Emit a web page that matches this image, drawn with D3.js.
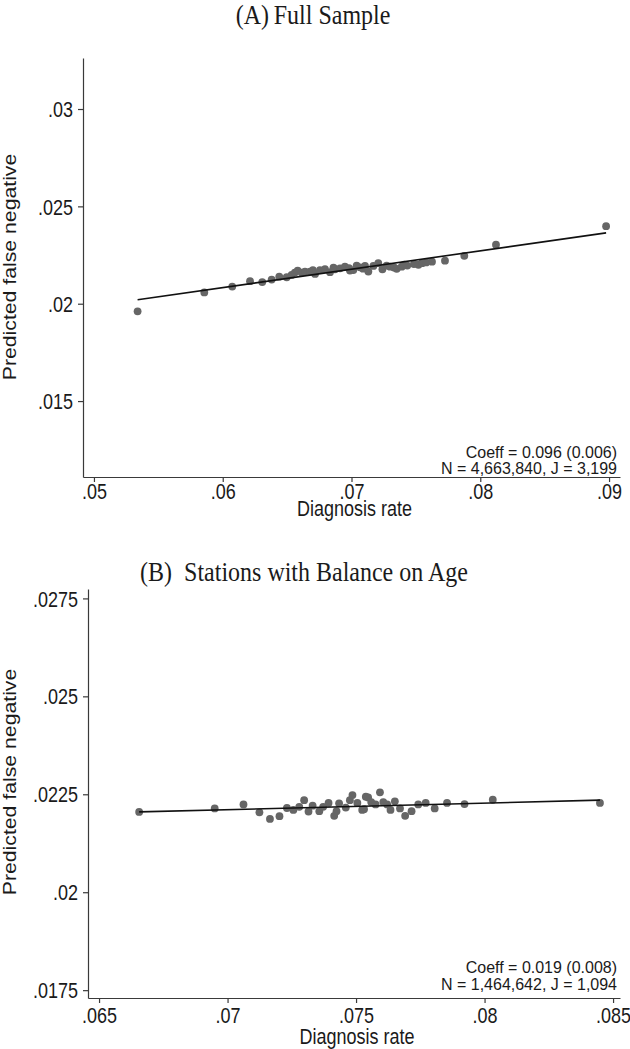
<!DOCTYPE html>
<html>
<head>
<meta charset="utf-8">
<script src="https://cdn.jsdelivr.net/npm/d3@7"></script>
<style>
  html, body { margin: 0; padding: 0; background: #fff; }
  svg { display: block; }
  .tick text { font-family: "Liberation Sans", Arial, sans-serif; font-size: 18px; fill: #1a1a1a; }
  .tick line, .domain { stroke: #3a3a3a; stroke-width: 1.2px; }
</style>
</head>
<body>
<svg id="chart" width="630" height="1049"></svg>
<script>
// ---------- Panel A: Full Sample ----------
const titleA = "(A)\u2009Full Sample";
const xTicksA = [0.05, 0.06, 0.07, 0.08, 0.09];
const xTickLabelsA = [".05", ".06", ".07", ".08", ".09"];
const yTicksA = [0.015, 0.02, 0.025, 0.03];
const yTickLabelsA = [".015", ".02", ".025", ".03"];
const xDiagA = [0.05339, 0.05857, 0.06074, 0.06212, 0.06307, 0.0638, 0.06439, 0.06497, 0.06535, 0.0656,
  0.06582, 0.06613, 0.06639, 0.06678, 0.067, 0.06717, 0.06755, 0.06794, 0.06833, 0.0686,
  0.06872, 0.06911, 0.06949, 0.0698, 0.06988, 0.07014, 0.0704, 0.07066, 0.0709, 0.07105,
  0.07131, 0.0717, 0.07208, 0.0724, 0.07273, 0.073, 0.0733, 0.07351, 0.0739, 0.0741,
  0.07433, 0.07485, 0.0752, 0.07548, 0.0758, 0.07625, 0.07726, 0.07876, 0.08122, 0.08977];
const yPredA = [0.01961, 0.02058, 0.02088, 0.02116, 0.02111, 0.02124, 0.02139, 0.02136, 0.02148, 0.0216,
  0.0217, 0.0216, 0.02165, 0.02165, 0.02172, 0.02153, 0.02173, 0.02177, 0.02162, 0.02185,
  0.02177, 0.02182, 0.0219, 0.02183, 0.0217, 0.02173, 0.02196, 0.02187, 0.0218, 0.02194,
  0.02165, 0.02194, 0.02208, 0.02177, 0.02196, 0.0219, 0.02186, 0.02179, 0.0219, 0.022,
  0.02196, 0.02204, 0.022, 0.02208, 0.02212, 0.02216, 0.02221, 0.02246, 0.02303, 0.02398];
const fitXA = [0.05339, 0.08977];
const fitYA = [0.0202, 0.02364];
const noteA = ["Coeff = 0.096 (0.006)", "N = 4,663,840, J = 3,199"];

// ---------- Panel B: Stations with Balance on Age ----------
const titleB = "(B)\u2002Stations with Balance on Age";
const xTicksB = [0.065, 0.07, 0.075, 0.08, 0.085];
const xTickLabelsB = [".065", ".07", ".075", ".08", ".085"];
const yTicksB = [0.0175, 0.02, 0.0225, 0.025, 0.0275];
const yTickLabelsB = [".0175", ".02", ".0225", ".025", ".0275"];
const xDiagB = [0.06656, 0.0695, 0.07062, 0.07124, 0.07165, 0.07202, 0.07231, 0.07256, 0.07279, 0.07298,
  0.07315, 0.07331, 0.07357, 0.07372, 0.07393, 0.07415, 0.07424, 0.07434, 0.0746, 0.07476,
  0.07486, 0.07505, 0.07524, 0.07531, 0.07538, 0.07547, 0.07559, 0.07576, 0.07593, 0.07606,
  0.07621, 0.07634, 0.07651, 0.07671, 0.07691, 0.07716, 0.07742, 0.07771, 0.07806, 0.07854,
  0.07922, 0.08032, 0.08449];
const yPredB = [0.02205, 0.02214, 0.02224, 0.02204, 0.02187, 0.02194, 0.02215, 0.0221, 0.02218, 0.02235,
  0.02206, 0.02221, 0.02207, 0.02218, 0.02228, 0.02195, 0.02207, 0.02227, 0.02216, 0.02235,
  0.02248, 0.02228, 0.0221, 0.02212, 0.02244, 0.02242, 0.0223, 0.02224, 0.02255, 0.0223,
  0.02224, 0.0221, 0.02232, 0.02214, 0.02195, 0.02207, 0.02224, 0.02228, 0.02214, 0.02228,
  0.02225, 0.02236, 0.02228];
const fitXB = [0.06656, 0.08449];
const fitYB = [0.02205, 0.02235];
const noteB = ["Coeff = 0.019 (0.008)", "N = 1,464,642, J = 1,094"];

const xLabel = "Diagnosis rate";
const yLabel = "Predicted false negative";

const svg = d3.select("#chart");
const sans = '"Liberation Sans", Arial, sans-serif';
const serif = '"Liberation Serif", "Times New Roman", serif';
const SY = 1.18; // glyphs in the reference are vertically elongated

function addText(g, x, y, str, family, size, anchor, rotate, sy) {
  const s = sy === undefined ? SY : sy;
  return g.append("text")
    .attr("transform", `translate(${x},${y}) scale(1,${s})` + (rotate ? " rotate(-90)" : ""))
    .attr("text-anchor", anchor)
    .style("font-family", family).style("font-size", size + "px").style("fill", "#1a1a1a")
    .text(str);
}

function panel(cfg) {
  const x = d3.scaleLinear().domain(cfg.xDomain).range([cfg.left, cfg.right]);
  const y = d3.scaleLinear().domain(cfg.yDomain).range([cfg.bottom, cfg.top]);
  const g = svg.append("g");

  addText(g, cfg.titleX, cfg.titleY, cfg.title, serif, 24, "middle");

  const xAxis = d3.axisBottom(x).tickValues(cfg.xTicks)
    .tickFormat((d, i) => cfg.xTickLabels[i]).tickSize(5).tickSizeOuter(0).tickPadding(cfg.xPad);
  const gx = g.append("g").attr("transform", `translate(0,${cfg.bottom})`).call(xAxis);
  gx.selectAll(".tick text").attr("transform", `scale(1,${SY})`);

  const yAxis = d3.axisLeft(y).tickValues(cfg.yTicks)
    .tickFormat((d, i) => cfg.yTickLabels[i]).tickSize(5).tickSizeOuter(0).tickPadding(5);
  const gy = g.append("g").attr("transform", `translate(${cfg.left},0)`).call(yAxis);
  gy.selectAll(".tick text").attr("transform", `scale(1,${SY})`).attr("dy", "0.36em");

  // axis titles
  addText(g, (cfg.left + cfg.right) / 2 + 3, cfg.bottom + cfg.xTitleOffset, xLabel, sans, 18, "middle");
  addText(g, 16, cfg.yLabelY, yLabel, sans, 18, "middle", true);

  // points
  const pts = cfg.xs.map((v, i) => [v, cfg.ys[i]]);
  g.append("g").selectAll("circle").data(pts).join("circle")
    .attr("cx", d => x(d[0])).attr("cy", d => y(d[1])).attr("r", 3.9)
    .attr("fill", "#666");

  // fitted line
  const fit = cfg.fitX.map((v, i) => [v, cfg.fitY[i]]);
  g.append("path")
    .attr("d", d3.line().x(d => x(d[0])).y(d => y(d[1]))(fit))
    .attr("fill", "none").attr("stroke", "#111").attr("stroke-width", 1.6);

  // notes
  cfg.notes.forEach((t, i) => {
    addText(g, cfg.right - 3, cfg.noteY + i * cfg.noteGap, t, sans, 16, "end", false, 1.08);
  });
}

panel({
  title: titleA, titleX: 313, titleY: 24,
  left: 83, right: 620, top: 58, bottom: 477,
  xDomain: [0.04915, 0.09085], yDomain: [0.0111, 0.03262],
  xTicks: xTicksA, xTickLabels: xTickLabelsA, yTicks: yTicksA, yTickLabels: yTickLabelsA,
  xs: xDiagA, ys: yPredA, fitX: fitXA, fitY: fitYA,
  notes: noteA, noteY: 458, noteGap: 16, xTitleOffset: 39, xPad: 1, yLabelY: 267
});

panel({
  title: titleB, titleX: 304, titleY: 581,
  left: 88, right: 620, top: 589, bottom: 998,
  xDomain: [0.06457, 0.08527], yDomain: [0.0173, 0.02774],
  xTicks: xTicksB, xTickLabels: xTickLabelsB, yTicks: yTicksB, yTickLabels: yTickLabelsB,
  xs: xDiagB, ys: yPredB, fitX: fitXB, fitY: fitYB,
  notes: noteB, noteY: 973, noteGap: 17, xTitleOffset: 46, xPad: 3, yLabelY: 782
});
</script>
</body>
</html>
